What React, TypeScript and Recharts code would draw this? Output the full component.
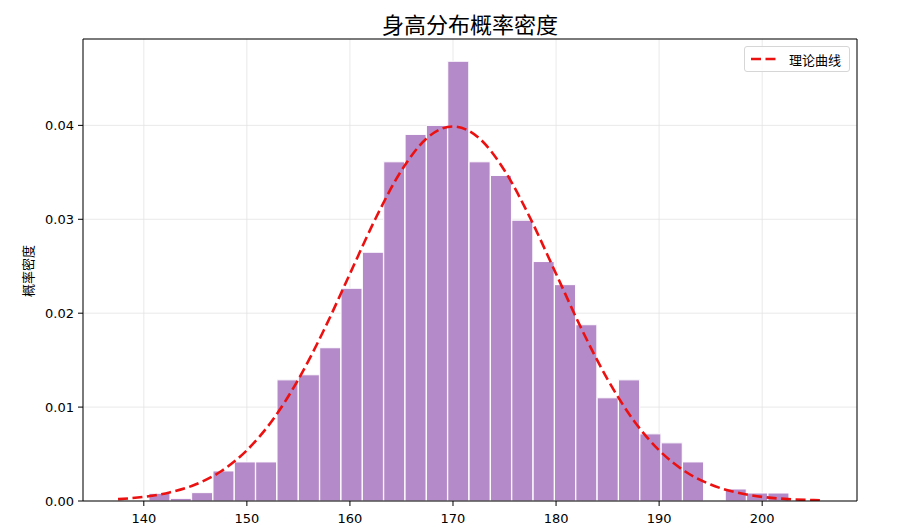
import {
  ComposedChart,
  Bar,
  Line,
  XAxis,
  YAxis,
  CartesianGrid,
  Legend,
} from "recharts";

// histogram bins (centre of each bin) and the density read for each
const binCenters = [
  141.54, 143.61, 145.68, 147.75, 149.82, 151.89, 153.96, 156.03, 158.1, 160.17,
  162.25, 164.32, 166.39, 168.46, 170.53, 172.6, 174.67, 176.74, 178.81, 180.88,
  182.95, 185.02, 187.09, 189.16, 191.23, 193.3, 195.38, 197.45, 199.52, 201.59,
];
const binDensity = [
  0.00082, 0.00028, 0.00089, 0.0032, 0.00416, 0.00416, 0.0129, 0.01344, 0.01632, 0.02265,
  0.02649, 0.03612, 0.03904, 0.04, 0.04683, 0.03612, 0.03467, 0.0299, 0.0255, 0.02304,
  0.01877, 0.01099, 0.0129, 0.00715, 0.00619, 0.00416, 0, 0.00128, 0.00085, 0.00085,
];

// theoretical curve
const curveX = [
  137.5, 140, 142.5, 145, 147.5, 150, 152.5, 155, 157.5, 160, 162.5, 165, 167.5, 170,
  172.5, 175, 177.5, 180, 182.5, 185, 187.5, 190, 192.5, 195, 197.5, 200, 202.5, 205, 205.6,
];
const curveY = [
  0.0002, 0.00044, 0.00091, 0.00175, 0.00317, 0.0054, 0.00863, 0.01295, 0.01826, 0.0242,
  0.03011, 0.0352, 0.03867, 0.03989, 0.03867, 0.0352, 0.03011, 0.0242, 0.01826, 0.01295,
  0.00863, 0.0054, 0.00317, 0.00175, 0.00091, 0.00044, 0.0002, 0.00009, 0.00007,
];

const xTicks = [140, 150, 160, 170, 180, 190, 200];
const yTicks = [0, 0.01, 0.02, 0.03, 0.04];

const TITLE = "身高分布概率密度";
const Y_LABEL = "概率密度";
const LEGEND_LABEL = "理论曲线";

const X_DOMAIN: [number, number] = [134.1, 209.2];
const Y_DOMAIN: [number, number] = [0, 0.0492];
// outer edges of the histogram
const BIN_START = 140.5;
const BIN_END = 202.63;

const W = 904;
const H = 528;
const MARGIN = { top: 38, right: 46, bottom: 0, left: 0 };
const Y_AXIS_W = 83;
const X_AXIS_H = 27;

const plotW = W - MARGIN.left - MARGIN.right - 1 - Y_AXIS_W;
const pxPerUnit = plotW / (X_DOMAIN[1] - X_DOMAIN[0]);
// the bars sit on a band axis that only covers the binned range
const BIN_PAD = {
  left: (BIN_START - X_DOMAIN[0]) * pxPerUnit,
  right: (X_DOMAIN[1] - BIN_END) * pxPerUnit,
};

const TICK = { fill: "#000", fontSize: 13, fontFamily: "DejaVu Sans" };
const CJK = "'Noto Sans CJK SC', 'Noto Sans', sans-serif";
const RED = "#ec1111";

const bins = binCenters.map((x, i) => ({ x, density: binDensity[i] }));
const curve = curveX.map((x, i) => ({ x, y: curveY[i] }));

function LegendBox() {
  return (
    <div
      style={{
        width: 104,
        height: 24,
        border: "1px solid #d6d6d6",
        borderRadius: 3,
        background: "rgba(255,255,255,0.85)",
        display: "flex",
        alignItems: "center",
      }}
    >
      <svg width={44} height={24}>
        <line x1={6} y1={12} x2={31} y2={12} stroke={RED} strokeWidth={2.6} strokeDasharray="10 4.5" />
      </svg>
      <span style={{ fontFamily: CJK, fontSize: 13, color: "#000" }}>{LEGEND_LABEL}</span>
    </div>
  );
}

export default function App() {
  return (
    <div style={{ position: "absolute", left: 0, top: 0, width: W, height: H, background: "#fff" }}>
      <div
        style={{
          position: "absolute",
          left: 83,
          width: plotW,
          top: 8,
          textAlign: "center",
          fontFamily: CJK,
          fontSize: 22,
          lineHeight: "30px",
          color: "#000",
        }}
      >
        {TITLE}
      </div>
      <div
        style={{
          position: "absolute",
          left: 27,
          top: 271,
          transform: "translate(-50%, -50%) rotate(-90deg)",
          fontFamily: CJK,
          fontSize: 13,
          whiteSpace: "nowrap",
          color: "#000",
        }}
      >
        {Y_LABEL}
      </div>
      <ComposedChart width={W} height={H} data={bins} margin={MARGIN} barCategoryGap={0} barGap={0}>
        <CartesianGrid stroke="#e3e3e3" strokeWidth={0.8} />
        <XAxis
          dataKey="x"
          type="number"
          domain={X_DOMAIN}
          ticks={xTicks}
          allowDataOverflow
          height={X_AXIS_H}
          tick={TICK}
          tickSize={5}
          tickMargin={8}
          axisLine={{ stroke: "#000", strokeWidth: 1 }}
          tickLine={{ stroke: "#000", strokeWidth: 1 }}
        />
        <XAxis xAxisId="bins" dataKey="x" type="category" hide padding={BIN_PAD} />
        <XAxis
          xAxisId="top"
          orientation="top"
          dataKey="x"
          type="number"
          domain={X_DOMAIN}
          allowDataOverflow
          height={1}
          tick={false}
          tickLine={false}
          axisLine={{ stroke: "#000", strokeWidth: 1 }}
        />
        <YAxis
          type="number"
          domain={Y_DOMAIN}
          ticks={yTicks}
          allowDataOverflow
          width={Y_AXIS_W}
          tick={TICK}
          tickSize={5}
          tickMargin={4}
          tickFormatter={(v: number) => v.toFixed(2)}
          axisLine={{ stroke: "#000", strokeWidth: 1 }}
          tickLine={{ stroke: "#000", strokeWidth: 1 }}
        />
        <YAxis
          yAxisId="right"
          orientation="right"
          type="number"
          domain={Y_DOMAIN}
          allowDataOverflow
          width={1}
          tick={false}
          tickLine={false}
          axisLine={{ stroke: "#000", strokeWidth: 1 }}
        />
        <Bar
          xAxisId="bins"
          dataKey="density"
          fill="#b58ac8"
          stroke="#ffffff"
          strokeWidth={1}
          isAnimationActive={false}
        />
        <Line
          data={curve}
          dataKey="y"
          type="monotone"
          stroke={RED}
          strokeWidth={2.6}
          strokeDasharray="10 4.5"
          dot={false}
          activeDot={false}
          isAnimationActive={false}
        />
        <Legend
          layout="horizontal"
          verticalAlign="middle"
          align="center"
          content={() => <LegendBox />}
          wrapperStyle={{ top: 46, left: 744, width: 106, height: 26 }}
        />
      </ComposedChart>
    </div>
  );
}
